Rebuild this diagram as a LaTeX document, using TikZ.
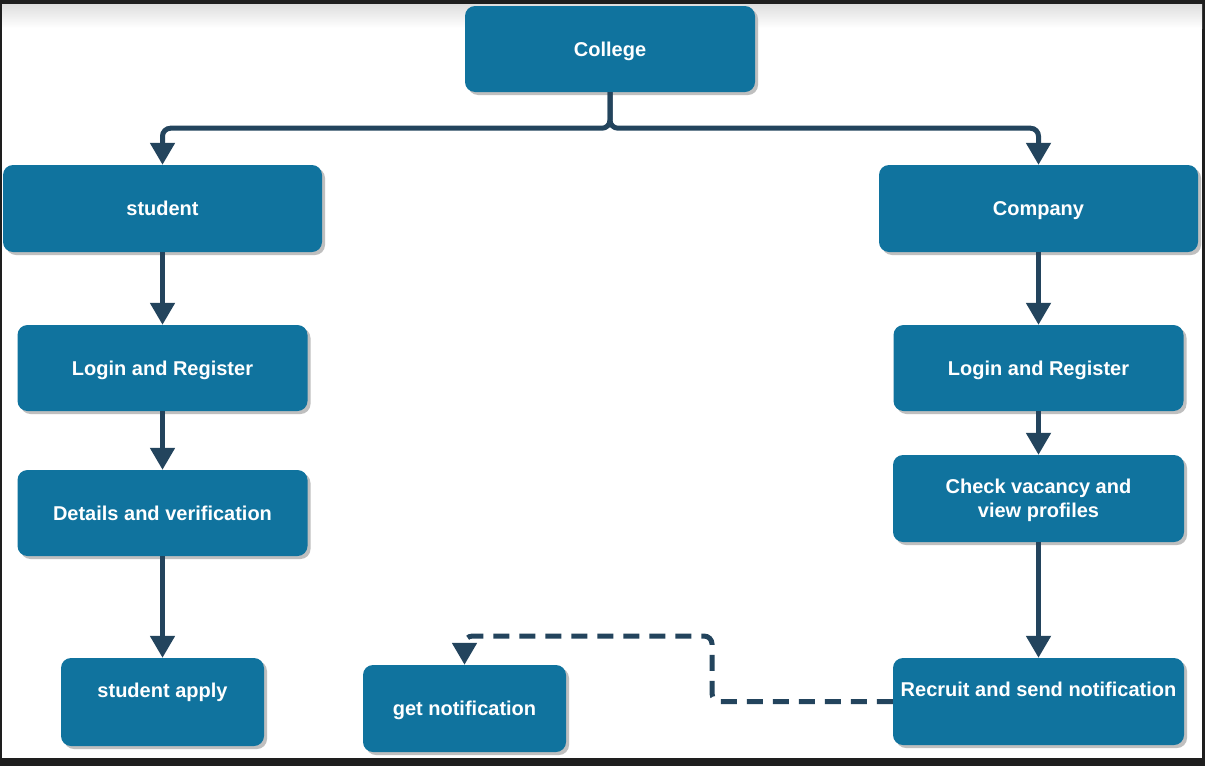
\documentclass[tikz,border=0pt]{standalone}
\usepackage{fontspec}
\setmainfont{Liberation Sans}
\usetikzlibrary{arrows.meta,shadows}

\definecolor{boxblue}{HTML}{10739E}
\definecolor{linknavy}{HTML}{23445D}
\definecolor{framedark}{HTML}{1E1E1E}

\begin{document}
\begin{tikzpicture}[x=1pt,y=-1pt,
    box/.style={rectangle, rounded corners=10pt, fill=boxblue, text=white,
        font=\fontsize{20}{24}\selectfont\bfseries, align=center, inner sep=0pt,
        text depth=0pt, minimum width=290pt, minimum height=86pt,
        drop shadow={shadow xshift=3pt, shadow yshift=-3pt, fill=black!25, opacity=1}},
    flow/.style={draw=linknavy, line width=5pt, rounded corners=8pt,
        -{Triangle[width=24pt,length=22pt]}}]
    \useasboundingbox (0,0) rectangle (1205,766);

    % window frame and page
    \fill[framedark] (0,0) rectangle (1205,766);
    \fill[white] (2,4) rectangle (1202,758);
    \shade[top color=black!13, bottom color=white] (2,4) rectangle (1202,28);

    % top
    \node[box] (college) at (610,49) {College};

    % student side
    \node[box, minimum width=319pt, minimum height=87pt] (student) at (162.5,208.5) {student};
    \node[box] (loginS) at (162.5,368) {Login and Register};
    \node[box] (details) at (162.5,513) {Details and verification};
    \node[box, minimum width=203pt, minimum height=88pt] (apply) at (162.5,702) {student apply\\\mbox{}};
    \node[box, minimum width=203pt, minimum height=87pt] (getnote) at (464.5,708.5) {get notification};

    % company side
    \node[box, minimum width=319pt, minimum height=87pt] (company) at (1038.5,208.5) {Company};
    \node[box] (loginC) at (1038.5,368) {Login and Register};
    \node[box, minimum width=291pt, minimum height=87pt] (check) at (1038.5,498.5) {Check vacancy and\\view profiles};
    \node[box, minimum width=291pt, minimum height=87pt] (recruit) at (1038.5,701.5) {Recruit and send notification\\\mbox{}};

    % college splits
    \draw[flow] (college.south) -- ++(0,36) -| (student.north);
    \draw[flow] (college.south) -- ++(0,36) -| (company.north);

    \draw[flow] (student) -- (loginS);
    \draw[flow] (loginS) -- (details);
    \draw[flow] (details) -- (apply);

    \draw[flow] (company) -- (loginC);
    \draw[flow] (loginC) -- (check);
    \draw[flow] (check) -- (recruit);

    % notification back (dashed)
    \coordinate (dashbend) at (712,636);
    \draw[flow, dash pattern=on 16pt off 10pt] (recruit.west) -| (dashbend) -| (getnote.north);
\end{tikzpicture}
\end{document}
